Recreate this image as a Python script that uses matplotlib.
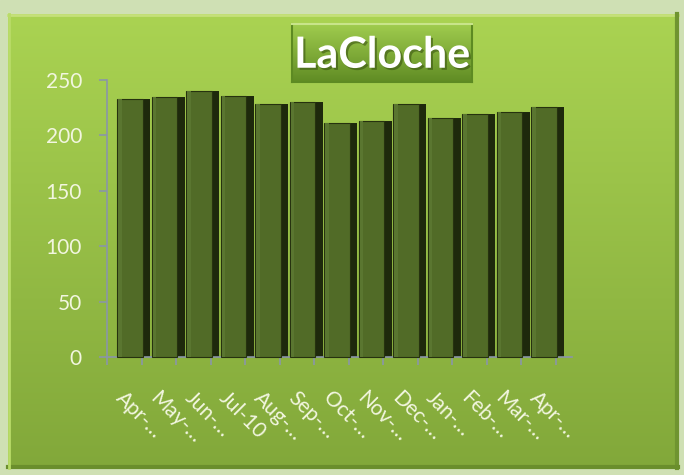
#!/usr/bin/env python3

import numpy as np
import matplotlib
matplotlib.use("Agg")
import matplotlib.pyplot as plt
import matplotlib.patheffects as pe

months = ["Apr-…", "May-…", "Jun-…", "Jul-10", "Aug-…", "Sep-…", "Oct-…",
          "Nov-…", "Dec-…", "Jan-…", "Feb-…", "Mar-…", "Apr-…"]
values = [233, 235, 240, 236, 228, 230, 211, 213, 228, 216, 219, 221, 226]
yticks = [0, 50, 100, 150, 200, 250]

plt.rcParams["font.family"] = ["Lato", "DejaVu Sans"]

W, H = 684, 475
fig = plt.figure(figsize=(W / 100, H / 100), dpi=100)

# background: pale frame + green gradient panel
bg = fig.add_axes([0, 0, 1, 1])
bg.set_xlim(0, W)
bg.set_ylim(H, 0)
bg.axis("off")
bg.add_patch(plt.Rectangle((0, 0), W, H, color="#cfe0b4", zorder=0))
grad = np.linspace(0, 1, 256)[:, None]
top = np.array([170, 211, 82]) / 255
bot = np.array([130, 168, 58]) / 255
img = top[None, None, :] * (1 - grad[..., None]) + bot[None, None, :] * grad[..., None]
bg.imshow(img, extent=(8, 678, 468, 14), aspect="auto", zorder=1)
bg.plot([8, 678], [15, 15], color="#c4e07a", lw=2, zorder=2)
bg.plot([677, 677], [14, 468], color="#6f9430", lw=3, zorder=2)
bg.plot([8, 678], [467, 467], color="#6a8e2c", lw=3, zorder=2)
bg.plot([9, 9], [14, 468], color="#b9dc68", lw=2, zorder=2)

# main axes
x0, x1 = 107, 572
yb, yt = 357, 80
ax = fig.add_axes([x0 / W, 1 - yb / H, (x1 - x0) / W, (yb - yt) / H])
ax.patch.set_alpha(0)
slot = 34.5
ax.set_xlim(-0.5, -0.5 + (x1 - x0) / slot)
ax.set_ylim(0, 250)

pos = np.arange(len(values))
face_w = 0.75
side_w = 0.21
face_left = pos - 0.5 + 0.29
ax.bar(face_left + face_w, values, width=side_w, align="edge",
       color="#1e290c", edgecolor="none", zorder=2, clip_on=False)
ax.bar(face_left, values, width=face_w, align="edge",
       color="#516b27", edgecolor="#26320f", linewidth=0.8, zorder=3, clip_on=False)
ax.bar(face_left + 0.04, values, width=0.1, align="edge",
       color="#5a7630", edgecolor="none", zorder=4, clip_on=False)

for s in ["top", "right"]:
    ax.spines[s].set_visible(False)
for s in ["left", "bottom"]:
    ax.spines[s].set_color("#8a96a8")
    ax.spines[s].set_linewidth(1.2)

ax.set_yticks(yticks)
ax.tick_params(axis="y", colors="#8a96a8", direction="out", length=6, width=1.2,
               labelcolor="#f2f6e0", labelsize=15, pad=12)
ax.set_xticks(np.arange(len(values) + 1) - 0.5)
ax.set_xticklabels([])
ax.tick_params(axis="x", which="major", colors="#8a96a8", direction="out",
               length=6, width=1.2)
ax.set_xticks(pos + 0.05, minor=True)
ax.set_xticklabels(months, minor=True, rotation=-45, ha="left", va="top",
                   rotation_mode="anchor", color="#f2f6e0", fontsize=15)
ax.tick_params(axis="x", which="minor", length=0, pad=22)

# title box
tb = fig.add_axes([292 / W, 1 - 82 / H, 180 / W, 58 / H])
tgrad = np.linspace(0, 1, 128)[:, None]
ttop = np.array([160, 204, 78]) / 255
tbot = np.array([96, 140, 36]) / 255
timg = ttop[None, None, :] * (1 - tgrad[..., None]) + tbot[None, None, :] * tgrad[..., None]
tb.imshow(timg, extent=(0, 1, 0, 1), aspect="auto")
tb.set_xlim(0, 1)
tb.set_ylim(0, 1)
tb.set_xticks([])
tb.set_yticks([])
for s in tb.spines.values():
    s.set_color("#5d8a22")
    s.set_linewidth(1.5)
tb.spines["top"].set_color("#c8e48a")
tb.text(0.5, 0.47, "LaCloche", ha="center", va="center", color="white",
        fontsize=31, fontweight="bold",
        path_effects=[pe.withSimplePatchShadow(offset=(1.5, -1.5),
                                               shadow_rgbFace="#3a5512", alpha=0.6)])

fig.savefig("out.png", dpi=100)
